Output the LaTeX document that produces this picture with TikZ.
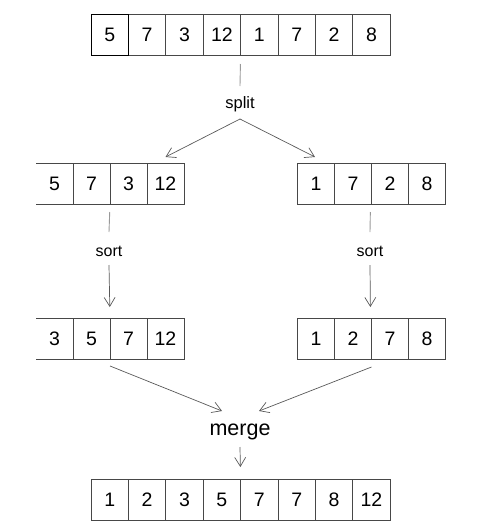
\documentclass[tikz,border=0pt]{standalone}
\usepackage{fontspec}
\setmainfont{Liberation Sans}
\usetikzlibrary{arrows.meta}
\begin{document}
\begin{tikzpicture}[x=1pt,y=-1pt,
  cell/.style={minimum height=41pt,inner sep=0pt,outer sep=0pt,
    draw=black!72,line width=0.8pt,font=\fontsize{19.5}{19.5}\selectfont},
  wide/.style={cell,minimum width=37.4pt},
  narrow/.style={cell,minimum width=37pt},
  edge/.style={draw=black!72,line width=0.8pt},
  stub/.style={draw=black!40,line width=0.9pt},
  flow/.style={draw=black!65,line width=0.7pt,-{Straight Barb[length=9pt,width=11pt]}},
  lbl/.style={inner sep=0pt,font=\fontsize{16.5}{16.5}\selectfont},
]
\useasboundingbox (0,0) rectangle (503,531);

% unsorted input
\foreach \v [count=\i] in {5,7,3,12,1,7,2,8}
  \node[wide] (t\i) at ({91+37.4*(\i-0.5)},34.5) {\v};
\draw[black,line width=0.9pt] (t1.south west) rectangle (t1.north east);

% left half after the split
\node[narrow,draw=none] (l1) at (54.5,183.5) {5};
\draw[edge] (l1.north west) -- (l1.north east) (l1.south west) -- (l1.south east);
\foreach \v [count=\i from 2] in {7,3,12}
  \node[narrow] (l\i) at ({36+37*(\i-0.5)},183.5) {\v};

% right half after the split
\foreach \v [count=\i] in {1,7,2,8}
  \node[narrow] (r\i) at ({297.5+37*(\i-0.5)},183.5) {\v};

% left half sorted
\node[narrow,draw=none] (sl1) at (54.5,338.5) {3};
\draw[edge] (sl1.north west) -- (sl1.north east) (sl1.south west) -- (sl1.south east);
\foreach \v [count=\i from 2] in {5,7,12}
  \node[narrow] (sl\i) at ({36+37*(\i-0.5)},338.5) {\v};

% right half sorted
\foreach \v [count=\i] in {1,2,7,8}
  \node[narrow] (sr\i) at ({297.5+37*(\i-0.5)},338.5) {\v};

% merged output
\foreach \v [count=\i] in {1,2,3,5,7,7,8,12}
  \node[wide] (m\i) at ({91+37.4*(\i-0.5)},499.5) {\v};

% step labels
\node[lbl] (split) at (240,104) {split};
\node[lbl,font=\fontsize{16}{16}\selectfont] (sortl) at (109,251) {sort};
\node[lbl,font=\fontsize{16}{16}\selectfont] (sortr) at (370,251) {sort};
\node[lbl,font=\fontsize{21.5}{21.5}\selectfont] (merge) at (240,432) {merge};

% split
\draw[stub,shorten <=9pt] (t4.south east) -- ([yshift=18pt]split.center);
\draw[flow] ([yshift=-15pt]split.center) -- ([yshift=6pt]l4.north);
\draw[flow] ([yshift=-15pt]split.center) -- ([yshift=6pt,xshift=-1pt]r1.north);

% sort
\draw[stub,shorten <=8pt] (l2.south east) -- ([yshift=19pt]sortl.center);
\draw[flow,shorten >=11pt] ([yshift=-14pt]sortl.center) -- (sl2.north east);
\draw[stub,shorten <=8pt] ([xshift=-1pt]r2.south east) -- ([yshift=19pt]sortr.center);
\draw[flow,shorten >=11pt] ([yshift=-14pt]sortr.center) -- ([xshift=-1pt]sr2.north east);

% merge
\draw[flow] ([yshift=-7pt]sl2.south east) -- ([xshift=-18pt,yshift=21pt]merge.center);
\draw[flow] ([yshift=-8pt]sr2.south east) -- ([xshift=19pt,yshift=21pt]merge.center);
\draw[flow,shorten >=12pt] ([yshift=-15pt]merge.center) -- (m4.north east);
\end{tikzpicture}
\end{document}
